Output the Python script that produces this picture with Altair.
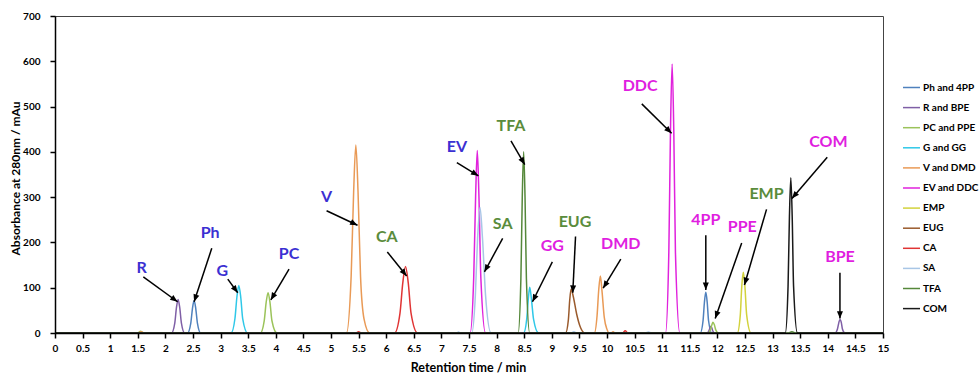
import math
import altair as alt
import pandas as pd

# ---------------- data ----------------
series_names = ["Ph and 4PP", "R and BPE", "PC and PPE", "G and GG", "V and DMD",
                "EV and DDC", "EMP", "EUG", "CA", "SA", "TFA", "COM"]
series_colors = ["#4F81BD", "#7F5FA6", "#9BC35A", "#2FC8E8", "#E99A56",
                 "#E022DC", "#D2D23C", "#9A5A2C", "#E03434", "#A8C6E6", "#55883A", "#1A1A1A"]

ph_t = [0, 2.40, 2.46, 2.49, 2.52, 2.55, 2.58, 2.64, 11.69, 11.74, 11.765, 11.79, 11.815, 11.84, 11.90, 15]
ph_y = [0, 0, 22, 54, 72, 54, 22, 0, 0, 27, 68, 90, 68, 27, 0, 0]

r_t = [0, 2.11, 2.17, 2.20, 2.23, 2.26, 2.29, 2.35, 11.81, 11.845, 11.865, 11.88, 11.90, 11.915, 11.95,
       14.13, 14.175, 14.20, 14.22, 14.245, 14.265, 14.31, 15]
r_y = [0, 0, 22, 56, 74, 56, 22, 0, 0, 5, 11, 15, 11, 5, 0, 0, 9, 23, 30, 23, 9, 0, 0]

pc_t = [0, 1.50, 1.55, 1.60, 3.72, 3.79, 3.825, 3.86, 3.895, 3.93, 4.02, 11.83, 11.875, 11.90, 11.92,
        11.945, 11.97, 12.02, 15]
pc_y = [0, 0, 4, 0, 0, 27, 67, 89, 67, 27, 0, 0, 7, 18, 24, 18, 7, 0, 0]

g_t = [0, 3.19, 3.26, 3.295, 3.33, 3.365, 3.40, 3.49, 8.49, 8.545, 8.575, 8.60, 8.63, 8.67, 8.76, 15]
g_y = [0, 0, 32, 79, 105, 79, 32, 0, 0, 30, 76, 101, 76, 30, 0, 0]

v_t = [0, 1.50, 1.56, 1.62, 5.28, 5.365, 5.41, 5.45, 5.49, 5.535, 5.60, 5.70, 9.77, 9.82, 9.85, 9.88,
       9.91, 9.95, 10.00, 10.04, 10.08, 10.11, 10.14, 15]
v_y = [0, 0, 3, 0, 0, 125, 311, 415, 311, 125, 30, 0, 0, 38, 95, 126, 92, 35, 8, 0, 0, 3, 0, 0]

ev_t = [0, 7.52, 7.585, 7.62, 7.65, 7.68, 7.715, 7.80, 11.06, 11.12, 11.15, 11.18, 11.21, 11.24, 11.32, 15]
ev_y = [0, 0, 121, 302, 403, 302, 121, 0, 0, 178, 446, 594, 446, 178, 0, 0]

emp_t = [0, 12.36, 12.415, 12.44, 12.47, 12.50, 12.53, 12.61, 15]
emp_y = [0, 0, 40, 100, 134, 100, 40, 0, 0]

eug_t = [0, 9.25, 9.30, 9.325, 9.35, 9.39, 9.45, 9.52, 9.60, 15]
eug_y = [0, 0, 29, 73, 97, 80, 42, 12, 0, 0]

ca_t = [0, 5.45, 5.50, 5.55, 6.15, 6.25, 6.30, 6.35, 6.40, 6.45, 6.57, 10.28, 10.33, 10.38, 15]
ca_y = [0, 0, 3, 0, 0, 44, 110, 147, 110, 44, 0, 0, 5, 0, 0]

sa_t = [0, 7.27, 7.31, 7.35, 7.55, 7.615, 7.655, 7.70, 7.745, 7.80, 7.90, 9.35, 9.40, 9.45,
        10.70, 10.75, 10.80, 15]
sa_y = [0, 0, 2, 0, 0, 83, 208, 277, 208, 83, 0, 0, 3, 0, 0, 2, 0, 0]

tfa_t = [0, 8.39, 8.44, 8.465, 8.49, 8.515, 8.54, 8.60, 13.28, 13.35, 13.42, 15]
tfa_y = [0, 0, 120, 300, 400, 300, 120, 0, 0, 3, 0, 0]

com_t = [0, 13.23, 13.28, 13.305, 13.33, 13.355, 13.38, 13.45, 15]
com_y = [0, 0, 103, 257, 343, 257, 103, 0, 0]

series_data = [(ph_t, ph_y), (r_t, r_y), (pc_t, pc_y), (g_t, g_y), (v_t, v_y), (ev_t, ev_y),
               (emp_t, emp_y), (eug_t, eug_y), (ca_t, ca_y), (sa_t, sa_y), (tfa_t, tfa_y), (com_t, com_y)]

# annotations
labels = ["R", "Ph", "G", "PC", "V", "CA", "EV", "SA", "TFA", "GG", "EUG", "DMD",
          "DDC", "4PP", "PPE", "EMP", "COM", "BPE"]
label_colors = ["#3B30D2", "#3B30D2", "#3B30D2", "#3B30D2", "#3B30D2", "#5A8C3C", "#3B30D2",
                "#5A8C3C", "#5A8C3C", "#E01EE0", "#5A8C3C", "#E01EE0", "#E01EE0", "#E01EE0",
                "#E01EE0", "#5A8C3C", "#E01EE0", "#E01EE0"]
label_t = [1.57, 2.81, 3.03, 4.24, 4.92, 6.01, 7.28, 8.11, 8.26, 9.01, 9.42, 10.25,
           10.60, 11.79, 12.45, 12.89, 14.01, 14.22]
label_y = [143, 220, 137, 174, 301, 213, 411, 241, 457, 192, 246, 196,
           545, 249, 235, 308, 422, 167]
arrow_t1 = [1.60, 2.84, 3.13, 4.24, 4.92, 6.02, 7.28, 8.11, 8.26, 9.01, 9.43, 10.25,
            10.63, 11.79, 12.44, 12.89, 13.99, 14.22]
arrow_y1 = [124, 187, 119, 141, 270, 179, 376, 209, 424, 157, 213, 163,
            506, 216, 199, 273, 388, 133]
arrow_t2 = [2.22, 2.52, 3.31, 3.91, 5.48, 6.37, 7.67, 7.78, 8.51, 8.65, 9.38, 9.93,
            11.17, 11.79, 11.96, 12.49, 13.35, 14.22]
arrow_y2 = [69, 69, 89, 73, 238, 126, 347, 135, 372, 69, 89, 99,
            441, 95, 32, 106, 297, 32]

x_ticks = [i * 0.5 for i in range(31)]
y_ticks = [0, 100, 200, 300, 400, 500, 600, 700]

# ---------------- layout ----------------
W, H = 828, 317
PAD = {"left": 55, "top": 16, "right": 97, "bottom": 41}
FONT = "Lato"

rows = []
for name, (ts, ys) in zip(series_names, series_data):
    for t, y in zip(ts, ys):
        rows.append({"series": name, "t": t, "a": y})
df_lines = pd.DataFrame(rows)

px_t = W / 15.0
px_y = H / 700.0
angles = []
for t1, y1, t2, y2 in zip(arrow_t1, arrow_y1, arrow_t2, arrow_y2):
    dx = (t2 - t1) * px_t
    dy = -(y2 - y1) * px_y
    angles.append(math.degrees(math.atan2(dx, -dy)) % 360)

df_ann = pd.DataFrame({
    "label": labels, "lc": label_colors, "lt": label_t, "ly": label_y,
    "t1": arrow_t1, "y1": arrow_y1, "t2": arrow_t2, "y2": arrow_y2, "ang": angles,
})

x_scale = alt.Scale(domain=[0, 15], nice=False, zero=False)
y_scale = alt.Scale(domain=[0, 700], nice=False)

x_axis = alt.Axis(values=x_ticks, format="~g", title="Retention time  / min", grid=False,
                  tickSize=5, tickColor="black", tickWidth=1.5, domainColor="black", domainWidth=1.5,
                  labelFont=FONT, labelFontWeight="bold", labelFontSize=10, labelColor="black",
                  labelPadding=5, labelFlush=False,
                  titleFont=FONT, titleFontWeight="bold", titleFontSize=12.5, titleColor="black",
                  titleX=413, titleY=34, titleBaseline="middle", titleAnchor="start", titleAlign="center",
                  zindex=1)
y_axis = alt.Axis(values=y_ticks, title="Absorbance at 280nm  / mAu", grid=False,
                  tickSize=5, tickColor="black", tickWidth=1.5, domainColor="black", domainWidth=1.5,
                  labelFont=FONT, labelFontWeight="bold", labelFontSize=10, labelColor="black",
                  labelPadding=10,
                  titleFont=FONT, titleFontWeight="bold", titleFontSize=12, titleColor="black",
                  titleX=-40, titleY=162, titleAngle=-90, titleBaseline="middle", titleAlign="center",
                  titleAnchor="start", zindex=1)

lines = alt.Chart(df_lines).mark_line(strokeWidth=1.5, interpolate="monotone").encode(
    x=alt.X("t:Q", scale=x_scale, axis=x_axis),
    y=alt.Y("a:Q", scale=y_scale, axis=y_axis),
    color=alt.Color("series:N", sort=series_names,
                    scale=alt.Scale(domain=series_names, range=series_colors),
                    legend=alt.Legend(title=None, orient="none", legendX=847, legendY=62,
                                      symbolType="stroke", symbolSize=289, symbolStrokeWidth=1.5,
                                      labelFont=FONT, labelFontWeight="bold", labelFontSize=10,
                                      labelColor="black", labelOffset=2, rowPadding=5.1,
                                      padding=0, labelLimit=200)),
)

rules = alt.Chart(df_ann).mark_rule(color="black", strokeWidth=1.5).encode(
    x=alt.X("t1:Q", scale=x_scale, axis=x_axis),
    y=alt.Y("y1:Q", scale=y_scale, axis=y_axis),
    x2="t2:Q", y2="y2:Q",
)

heads = alt.Chart(df_ann).mark_point(
    shape="M0,0L-0.45,1.1L0.45,1.1Z", filled=True, size=180, color="black", opacity=1, strokeWidth=0
).encode(
    x=alt.X("t2:Q", scale=x_scale, axis=x_axis),
    y=alt.Y("y2:Q", scale=y_scale, axis=y_axis),
    angle=alt.Angle("ang:Q", scale=None),
)

texts = alt.Chart(df_ann).mark_text(font=FONT, fontWeight="bold", fontSize=16,
                                    align="center", baseline="middle").encode(
    x=alt.X("lt:Q", scale=x_scale, axis=x_axis),
    y=alt.Y("ly:Q", scale=y_scale, axis=y_axis),
    text="label:N",
    color=alt.Color("lc:N", scale=None),
)

chart = alt.layer(lines, rules, heads, texts).properties(
    width=W, height=H, padding=PAD, autosize=alt.AutoSizeParams(type="none"),
    background="white",
).configure_view(stroke="#444444", strokeWidth=1)

chart.save("out.html", embed_options={"renderer": "svg", "actions": False})
